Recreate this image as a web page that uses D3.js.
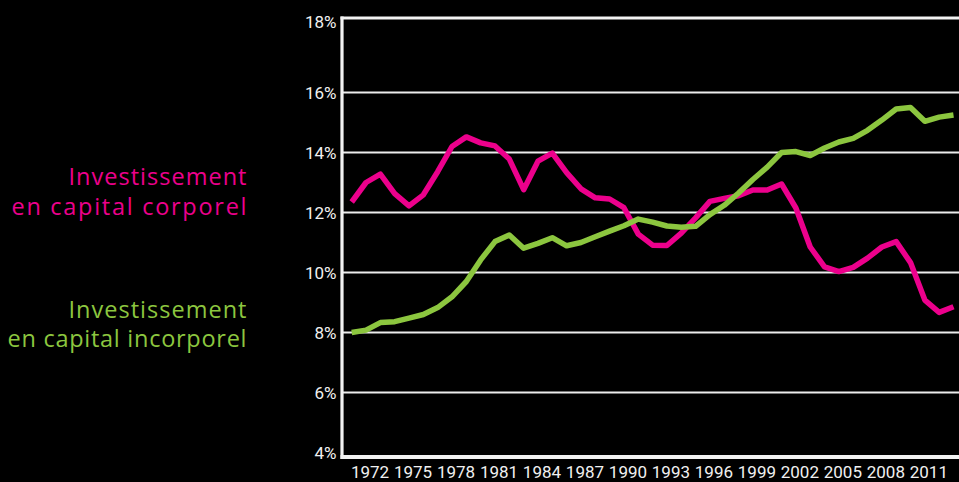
<!DOCTYPE html>
<html>
<head>
<meta charset="utf-8">
<script src="https://cdn.jsdelivr.net/npm/d3@7"></script>
<style>
  html, body { margin: 0; padding: 0; background: #000; }
  svg { display: block; }
</style>
</head>
<body>
<svg id="chart" width="959" height="482"></svg>
<script>
// ---- data ----
const years = d3.range(1971, 2014);
const corporel = [
  12.35, 13.0, 13.28, 12.63, 12.22, 12.59, 13.36, 14.2, 14.52, 14.32,
  14.22, 13.78, 12.76, 13.71, 13.98, 13.33, 12.79, 12.49, 12.45, 12.16,
  11.28, 10.91, 10.9, 11.31, 11.82, 12.37, 12.47, 12.56, 12.75, 12.75,
  12.95, 12.15, 10.85, 10.19, 10.03, 10.17, 10.48, 10.85, 11.03, 10.33,
  9.08, 8.67, 8.86
];
const incorporel = [
  8.0, 8.08, 8.33, 8.36, 8.48, 8.6, 8.83, 9.19, 9.7, 10.42,
  11.03, 11.25, 10.81, 10.97, 11.16, 10.89, 11.0, 11.19, 11.38, 11.56,
  11.78, 11.68, 11.55, 11.51, 11.54, 11.93, 12.24, 12.65, 13.1, 13.51,
  14.0, 14.03, 13.9, 14.15, 14.35, 14.47, 14.74, 15.08, 15.45, 15.5,
  15.04, 15.18, 15.25
];
const xTickLabels = [1972, 1975, 1978, 1981, 1984, 1987, 1990, 1993, 1996, 1999, 2002, 2005, 2008, 2011];
const yTicks = [4, 6, 8, 10, 12, 14, 16, 18];
const gridValues = [6, 8, 10, 12, 14, 16];
const legendCorporel = ["Investissement", "en capital corporel"];
const legendIncorporel = ["Investissement", "en capital incorporel"];

const PINK = "#ec008c";
const GREEN = "#8cc63f";

// ---- scales ----
const x = d3.scaleLinear().domain([1971, 2013]).range([351.7, 953.5]);
const y = d3.scaleLinear().domain([4, 16, 18]).range([452.5, 92.5, 18]);
const plotLeft = 342, plotRight = 959;

const svg = d3.select("#chart");
svg.append("rect").attr("width", 959).attr("height", 482).attr("fill", "#000");

// gridlines
svg.append("g").selectAll("line").data(gridValues).join("line")
  .attr("x1", plotLeft).attr("x2", plotRight)
  .attr("y1", d => y(d)).attr("y2", d => y(d))
  .attr("stroke", "#ececec").attr("stroke-width", 2);

// top frame line (18%)
svg.append("line")
  .attr("x1", plotLeft - 1.5).attr("x2", plotRight)
  .attr("y1", y(18)).attr("y2", y(18))
  .attr("stroke", "#f2f2f2").attr("stroke-width", 3.2);

// left axis line
svg.append("line")
  .attr("x1", plotLeft).attr("x2", plotLeft)
  .attr("y1", y(18) - 1.5).attr("y2", y(4) + 6.5)
  .attr("stroke", "#f2f2f2").attr("stroke-width", 3.2);

// bottom axis line
svg.append("line")
  .attr("x1", plotLeft - 1.5).attr("x2", plotRight)
  .attr("y1", y(4) + 4.6).attr("y2", y(4) + 4.6)
  .attr("stroke", "#f2f2f2").attr("stroke-width", 4);

// y tick labels
svg.append("g").selectAll("text").data(yTicks).join("text")
  .attr("x", 336.5)
  .attr("y", d => y(d) + (d === 18 ? 3.5 : 0))
  .attr("dy", "0.36em")
  .attr("text-anchor", "end")
  .attr("font-family", "Roboto, sans-serif")
  .attr("font-size", 17)
  .attr("fill", "#f0f0f0")
  .text(d => d + "%");

// x tick labels
svg.append("g").selectAll("text").data(xTickLabels).join("text")
  .attr("x", d => x(d) + 4)
  .attr("y", 477.5)
  .attr("text-anchor", "middle")
  .attr("font-family", "Roboto, sans-serif")
  .attr("font-size", 17)
  .attr("fill", "#f0f0f0")
  .text(d => d);

// lines
const line = d3.line().x((d, i) => x(years[i])).y(d => y(d));
svg.append("path").datum(corporel)
  .attr("d", line).attr("fill", "none")
  .attr("stroke", PINK).attr("stroke-width", 5.5)
  .attr("stroke-linejoin", "round");
svg.append("path").datum(incorporel)
  .attr("d", line).attr("fill", "none")
  .attr("stroke", GREEN).attr("stroke-width", 5.5)
  .attr("stroke-linejoin", "round");

// legend texts
function legend(lines, color, baselines, widths) {
  svg.append("g").selectAll("text").data(lines).join("text")
    .attr("x", 246.5)
    .attr("y", (d, i) => baselines[i])
    .attr("text-anchor", "end")
    .attr("font-family", "'Open Sans', 'Noto Sans', sans-serif")
    .attr("font-size", 23.5)
    .attr("fill", color)
    .attr("textLength", (d, i) => widths[i])
    .attr("lengthAdjust", "spacing")
    .text(d => d);
}
legend(legendCorporel, PINK, [185, 215], [178, 235]);
legend(legendIncorporel, GREEN, [317.5, 347], [178, 239]);
</script>
</body>
</html>
